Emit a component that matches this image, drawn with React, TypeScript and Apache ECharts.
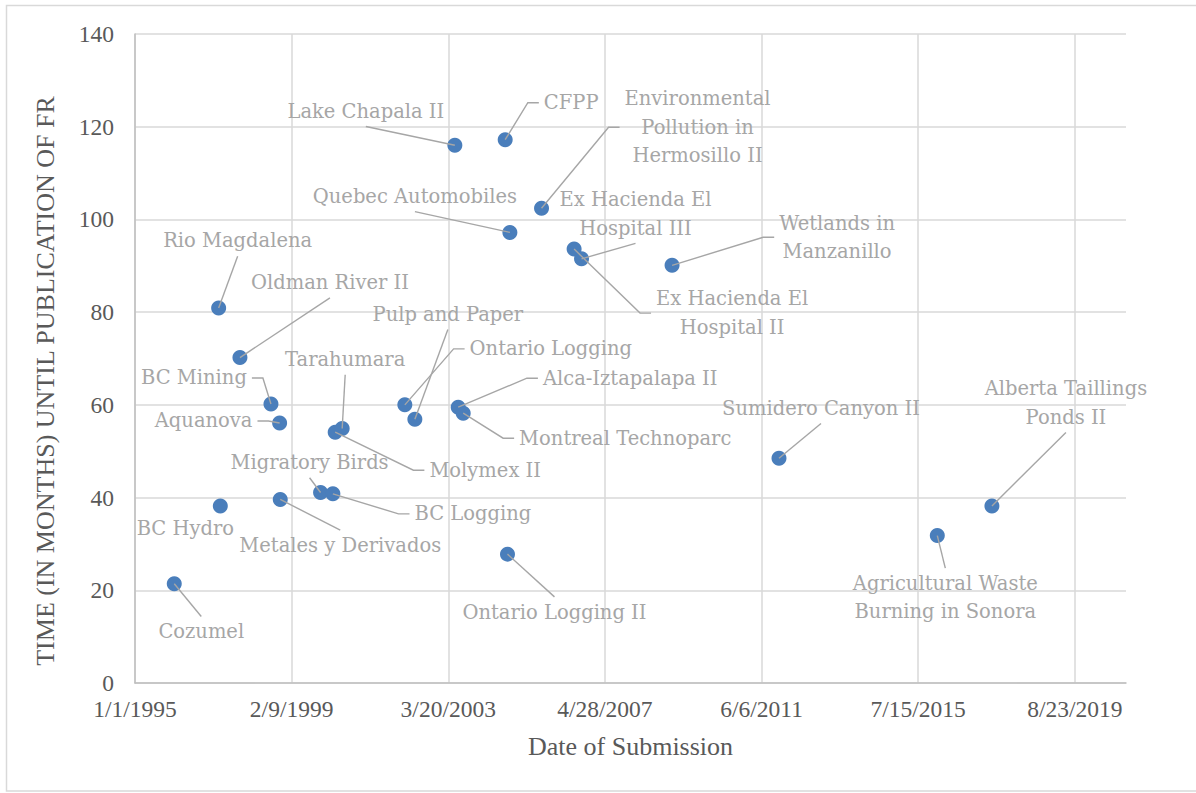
import React, { useEffect, useRef } from "react";
import * as echarts from "echarts";

// ---- data ----
const projectLabels = [
  "Cozumel",
  "BC Hydro",
  "Rio Magdalena",
  "Oldman River II",
  "BC Mining",
  "Aquanova",
  "Metales y Derivados",
  "Migratory Birds",
  "BC Logging",
  "Molymex II",
  "Tarahumara",
  "Ontario Logging",
  "Pulp and Paper",
  "Lake Chapala II",
  "Alca-Iztapalapa II",
  "Montreal Technoparc",
  "CFPP",
  "Ontario Logging II",
  "Quebec Automobiles",
  "Environmental\nPollution in\nHermosillo II",
  "Ex Hacienda El\nHospital II",
  "Ex Hacienda El\nHospital III",
  "Wetlands in\nManzanillo",
  "Sumidero Canyon II",
  "Agricultural Waste\nBurning in Sonora",
  "Alberta Taillings\nPonds II",
];

const submissionDates = [
  "1996-01-12",
  "1997-03-28",
  "1997-03-12",
  "1997-10-02",
  "1998-07-26",
  "1998-10-17",
  "1998-10-23",
  "1999-11-13",
  "2000-03-10",
  "2000-04-01",
  "2000-06-07",
  "2002-01-28",
  "2002-05-04",
  "2003-05-22",
  "2003-06-23",
  "2003-08-10",
  "2004-09-15",
  "2004-10-07",
  "2004-10-30",
  "2005-08-29",
  "2006-07-07",
  "2006-09-16",
  "2009-01-30",
  "2011-11-20",
  "2016-01-14",
  "2017-06-20",
];

const monthsUntilFR = [
  21.4, 38.2, 80.9, 70.2, 60.2, 56.1, 39.6, 41.1, 40.8, 54.1, 54.9, 60.0, 56.9,
  116.0, 59.5, 58.2, 117.2, 27.8, 97.2, 102.4, 93.6, 91.5, 90.1, 48.5, 31.8,
  38.2,
];

// label placement (offset of label centre from its point, in px) and leader-line side
const labelOffsetX = [
  27, -35, 19, 90, -77, -76, 60, -11, 140, 150, 3, 146, 33, -89, 172, 162, 66,
  47, -95, 156, 158, 54, 165, 42, 8, 74,
];
const labelOffsetY = [
  48, 23, -67, -75, -26, -2, 46, -30, 20, 38, -69, -56, -105, -34, -29, 25,
  -37, 58, -36, -81, 64, -45, -28, -50, 62, -103,
];
const leaderSide = [
  "top", "none", "bottom", "bottom", "right", "right", "top", "bottom", "left",
  "left", "bottom", "left", "bottom", "bottom", "left", "left", "left", "top",
  "bottom", "left", "left", "bottom", "left", "bottom", "top", "bottom",
];

const xAxisStartDate = "1995-01-01";
const xTickStepDays = 1500;
const xAxisMaxDays = 9490;
const yAxisMax = 140;
const yTickStep = 20;

const xAxisTitle = "Date of Submission";
const yAxisTitle = "TIME (IN MONTHS) UNTIL PUBLICATION OF FR";

// ---- helpers ----
const DAY_MS = 86400000;
function isoToUTC(iso: string) {
  const [y, m, d] = iso.split("-").map(Number);
  return Date.UTC(y, m - 1, d);
}
const BASE = isoToUTC(xAxisStartDate);
function toDays(iso: string) {
  return Math.round((isoToUTC(iso) - BASE) / DAY_MS);
}
function formatDays(days: number) {
  const dt = new Date(BASE + days * DAY_MS);
  return `${dt.getUTCMonth() + 1}/${dt.getUTCDate()}/${dt.getUTCFullYear()}`;
}

const AXIS_FONT = "'Liberation Serif', 'Times New Roman', serif";
const LABEL_FONT = "'DejaVu Serif', serif";
const LABEL_SIZE = 19.5;
const LABEL_LINE_HEIGHT = 28.5;
const LINE_COLOR = "#a6a6a6";

function measure(text: string) {
  const ctx = document.createElement("canvas").getContext("2d");
  if (!ctx) return { w: text.length * 10, h: LABEL_LINE_HEIGHT };
  ctx.font = `${LABEL_SIZE}px ${LABEL_FONT}`;
  const lines = text.split("\n");
  let w = 0;
  for (const l of lines) w = Math.max(w, ctx.measureText(l).width);
  return { w, h: lines.length * LABEL_LINE_HEIGHT };
}

export default function App() {
  const ref = useRef<HTMLDivElement>(null);

  useEffect(() => {
    if (!ref.current) return;
    const chart = echarts.init(ref.current, undefined, { renderer: "svg" });

    const data = projectLabels.map((name, i) => ({
      name,
      value: [toDays(submissionDates[i]), monthsUntilFR[i]],
    }));

    const baseGraphic: any[] = [
      {
        type: "rect",
        silent: true,
        z: -10,
        shape: { x: 6.5, y: 5.5, width: 1200, height: 785.5 },
        style: { fill: "none", stroke: "#d9d9d9", lineWidth: 1.5 },
      },
      {
        type: "text",
        silent: true,
        x: 45,
        y: 381,
        rotation: Math.PI / 2,
        style: {
          text: yAxisTitle,
          fill: "#595959",
          font: `26px ${AXIS_FONT}`,
          align: "center",
          verticalAlign: "middle",
        },
      },
    ];

    chart.setOption({
      animation: false,
      backgroundColor: "#ffffff",
      grid: {
        left: 135,
        right: 70,
        top: 34,
        bottom: 110,
        outerBoundsMode: "none",
      },
      xAxis: {
        type: "value",
        min: 0,
        max: xAxisMaxDays,
        interval: xTickStepDays,
        axisLine: { show: true, lineStyle: { color: "#bfbfbf", width: 1.5 } },
        axisTick: { show: false },
        splitLine: {
          show: true,
          showMaxLine: false,
          lineStyle: { color: "#d9d9d9", width: 1.5 },
        },
        axisLabel: {
          showMaxLabel: false,
          formatter: (v: number) => (v % xTickStepDays === 0 ? formatDays(v) : ""),
          color: "#595959",
          fontFamily: AXIS_FONT,
          fontSize: 23.5,
          margin: 14,
        },
        name: xAxisTitle,
        nameLocation: "middle",
        nameGap: 50,
        nameTextStyle: { color: "#595959", fontFamily: AXIS_FONT, fontSize: 26 },
      },
      yAxis: {
        type: "value",
        min: 0,
        max: yAxisMax,
        interval: yTickStep,
        axisLine: { show: true, lineStyle: { color: "#bfbfbf", width: 1.5 } },
        axisTick: { show: false },
        splitLine: { show: true, lineStyle: { color: "#d9d9d9", width: 1.5 } },
        axisLabel: {
          color: "#595959",
          fontFamily: AXIS_FONT,
          fontSize: 23.5,
          margin: 21,
        },
      },
      graphic: baseGraphic,
      series: [
        {
          type: "scatter",
          symbol: "circle",
          symbolSize: 15,
          itemStyle: { color: "#4a7ebb", opacity: 1 },
          data,
          label: {
            show: true,
            position: "inside",
            formatter: "{b}",
            color: "#a6a6a6",
            fontFamily: LABEL_FONT,
            fontSize: LABEL_SIZE,
            lineHeight: LABEL_LINE_HEIGHT,
            align: "center",
          },
          labelLine: { show: false },
          labelLayout: (p: any) => ({
            dx: labelOffsetX[p.dataIndex],
            dy: labelOffsetY[p.dataIndex],
          }),
        },
      ],
    });

    // leader lines, anchored to each point's pixel position from the axes
    const leaders: any[] = [];
    data.forEach((d, i) => {
      const side = leaderSide[i];
      if (side === "none") return;
      const pt = chart.convertToPixel({ seriesIndex: 0 }, d.value) as number[];
      if (!pt) return;
      const [px, py] = pt;
      const { w, h } = measure(d.name);
      const cx = px + labelOffsetX[i];
      const cy = py + labelOffsetY[i];
      let pts: number[][] = [];
      if (side === "left") {
        const x0 = cx - w / 2 - 5;
        pts = [[x0, cy], [x0 - 11, cy], [px, py]];
      } else if (side === "right") {
        const x0 = cx + w / 2 + 5;
        pts = [[x0, cy], [x0 + 11, cy], [px, py]];
      } else if (side === "top") {
        pts = [[cx, cy - h / 2 - 1], [px, py]];
      } else {
        pts = [[cx, cy + h / 2 + 1], [px, py]];
      }
      leaders.push({
        type: "polyline",
        silent: true,
        z: 5,
        shape: { points: pts },
        style: { stroke: LINE_COLOR, lineWidth: 1.4, fill: null },
      });
    });

    chart.setOption({ graphic: [...baseGraphic, ...leaders] });

    return () => chart.dispose();
  }, []);

  return (
    <div
      ref={ref}
      style={{ position: "fixed", left: 0, top: 0, width: 1196, height: 793 }}
    />
  );
}
